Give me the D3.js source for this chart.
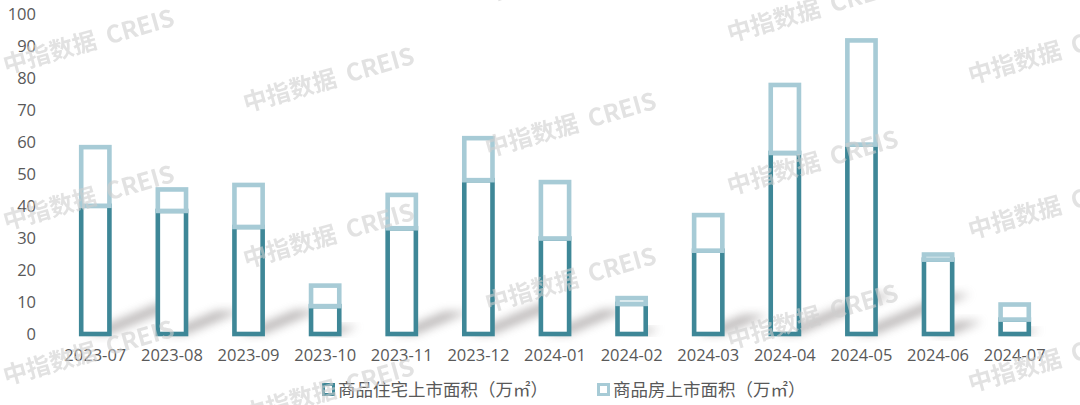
<!DOCTYPE html>
<html>
<head>
<meta charset="utf-8">
<script src="https://cdn.jsdelivr.net/npm/d3@7"></script>
<style>
  html, body { margin: 0; padding: 0; background: #fff; }
  svg { display: block; }
</style>
</head>
<body>
<svg id="chart" width="1080" height="405"></svg>
<script>
// ---- data ----
const months = ["2023-07","2023-08","2023-09","2023-10","2023-11","2023-12","2024-01","2024-02","2024-03","2024-04","2024-05","2024-06","2024-07"];
const residential = [40, 38.4, 33.4, 8.7, 33, 48, 29.8, 9.4, 26, 56.5, 59.1, 23.2, 4.5];
const total = [58.3, 45.1, 46.5, 15.1, 43.4, 61.1, 47.4, 11.2, 37.1, 77.7, 91.6, 24.8, 9.2];
const yTicks = [0, 10, 20, 30, 40, 50, 60, 70, 80, 90, 100];
const seriesNames = ["商品住宅上市面积（万㎡）", "商品房上市面积（万㎡）"];
const colors = ["#3e8797", "#a7cbd6"];

const svg = d3.select("#chart");
const x = d3.scaleBand().domain(months).range([57, 1053]).paddingInner(0).paddingOuter(0);
const y = d3.scaleLinear().domain([0, 100]).range([334, 13.5]);
const barW = 28.2;
const sw = 4.6;
const textColor = "#595959";
const numFont = "'Open Sans', 'Liberation Sans', sans-serif";
const cjkFont = "'Noto Sans CJK SC', 'Noto Sans', sans-serif";

// filters
const defs = svg.append("defs");
const f = defs.append("filter").attr("id", "blur").attr("x", "-50%").attr("y", "-50%").attr("width", "200%").attr("height", "200%");
f.append("feGaussianBlur").attr("stdDeviation", 5);

// y axis labels
const yAxis = d3.axisLeft(y).tickValues(yTicks).tickSize(0).tickPadding(0);
const yg = svg.append("g").attr("transform", "translate(36,0)").call(yAxis);
yg.select(".domain").remove();
yg.selectAll("text").attr("fill", textColor).attr("font-family", numFont).attr("font-size", 16.5).attr("dy", "0.36em");

// x axis labels
const xAxis = d3.axisBottom(x).tickSize(0).tickPadding(0);
const xg = svg.append("g").attr("transform", "translate(0,349)").call(xAxis);
xg.select(".domain").remove();
xg.selectAll("text").attr("fill", textColor).attr("font-family", numFont).attr("font-size", 16.5).attr("dy", "0.72em");

// shadows
const data = months.map((m, i) => ({ m, r: residential[i], t: total[i] }));
svg.append("g").selectAll("path").data(data).join("path")
  .attr("d", d => {
    const x0 = x(d.m) + x.bandwidth() / 2 - barW / 2 + 4;
    const x1 = x0 + barW - 4;
    const y0 = y(0);
    const hpx = y(0) - y(d.t);
    const dx = Math.min(hpx * 0.38, 95);
    const dy = dx * 0.42;
    return `M${x0},${y0} L${x1},${y0} L${x1 + dx},${y0 - dy} L${x0 + dx},${y0 - dy} Z`;
  })
  .attr("fill", "#8a8484")
  .attr("opacity", 0.6)
  .attr("filter", "url(#blur)");

// bars
const bars = svg.append("g");
bars.selectAll("rect.res").data(data).join("rect")
  .attr("class", "res")
  .attr("x", d => x(d.m) + x.bandwidth() / 2 - barW / 2)
  .attr("width", barW)
  .attr("y", d => y(d.r))
  .attr("height", d => y(0) - y(d.r))
  .attr("fill", "#fff")
  .attr("stroke", colors[0])
  .attr("stroke-width", sw);
bars.selectAll("rect.tot").data(data).join("rect")
  .attr("class", "tot")
  .attr("x", d => x(d.m) + x.bandwidth() / 2 - barW / 2)
  .attr("width", barW)
  .attr("y", d => y(d.t))
  .attr("height", d => y(d.r) - y(d.t))
  .attr("fill", "#fff")
  .attr("stroke", colors[1])
  .attr("stroke-width", sw);

// legend
const legendItems = [{ name: seriesNames[0], c: colors[0], x: 322 }, { name: seriesNames[1], c: colors[1], x: 597 }];
const lg = svg.append("g");
legendItems.forEach(it => {
  lg.append("rect").attr("x", it.x + 1.5).attr("y", 384.5).attr("width", 10).attr("height", 10)
    .attr("fill", "#fff").attr("stroke", it.c).attr("stroke-width", 3);
  lg.append("text").attr("x", it.x + 16).attr("y", 390).attr("dy", "0.36em")
    .attr("fill", textColor).attr("font-family", cjkFont).attr("font-size", 17.5)
    .text(it.name);
});

// watermarks
const wm = [
  [6, 74], [6, 230], [6, 385],
  [246, 112], [246, 268], [246, 423],
  [488, 2], [488, 157], [488, 312],
  [730, 42], [730, 195], [730, 349],
  [971, 84], [971, 239], [971, 392]
];
svg.append("g").selectAll("text").data(wm).join("text")
  .attr("transform", d => `translate(${d[0]},${d[1]}) rotate(-16)`)
  .attr("fill", "#cfcfcf")
  .attr("opacity", 0.6)
  .attr("font-family", cjkFont)
  .attr("font-weight", "bold")
  .attr("font-size", 24)
  .attr("xml:space", "preserve")
  .style("white-space", "pre")
  .text("中指数据  CREIS");
</script>
</body>
</html>
